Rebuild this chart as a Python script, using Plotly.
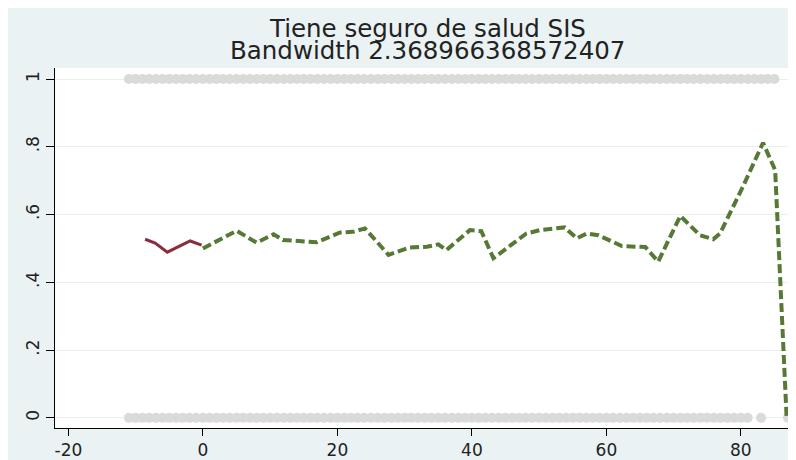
import plotly.graph_objects as go

# ---- data ----
title_line1 = "Tiene seguro de salud SIS"
title_line2 = "Bandwidth 2.368966368572407"

# observed outcome dots (y = 0 and y = 1)
zero_x = [-11, -10, -9, -8, -7, -6, -5, -4, -3, -2, -1, 0, 1, 2, 3, 4, 5, 6, 7, 8, 9, 10,
          11, 12, 13, 14, 15, 16, 17, 18, 19, 20, 21, 22, 23, 24, 25, 26, 27, 28, 29, 30,
          31, 32, 33, 34, 35, 36, 37, 38, 39, 40, 41, 42, 43, 44, 45, 46, 47, 48, 49, 50,
          51, 52, 53, 54, 55, 56, 57, 58, 59, 60, 61, 62, 63, 64, 65, 66, 67, 68, 69, 70,
          71, 72, 73, 74, 75, 76, 77, 78, 79, 80, 81, 83, 87]
zero_y = [0] * len(zero_x)
one_x = [-11, -10, -9, -8, -7, -6, -5, -4, -3, -2, -1, 0, 1, 2, 3, 4, 5, 6, 7, 8, 9, 10,
         11, 12, 13, 14, 15, 16, 17, 18, 19, 20, 21, 22, 23, 24, 25, 26, 27, 28, 29, 30,
         31, 32, 33, 34, 35, 36, 37, 38, 39, 40, 41, 42, 43, 44, 45, 46, 47, 48, 49, 50,
         51, 52, 53, 54, 55, 56, 57, 58, 59, 60, 61, 62, 63, 64, 65, 66, 67, 68, 69, 70,
         71, 72, 73, 74, 75, 76, 77, 78, 79, 80, 81, 82, 83, 84, 85]
one_y = [1] * len(one_x)

# local fit left of cutoff
left_x = [-8.6, -7.1, -5.3, -1.9, -0.2]
left_y = [0.527, 0.516, 0.489, 0.522, 0.510]

# local fit right of cutoff
right_x = [0.0, 5.0, 8.0, 10.5, 11.9, 16.9, 20.4, 22.3, 24.1, 27.6, 30.8, 33.3, 35.0,
           36.2, 39.7, 41.4, 43.2, 46.1, 48.1, 50.1, 53.1, 53.8, 55.6, 57.1, 58.8, 62.3,
           65.8, 67.7, 71.0, 73.9, 75.9, 76.9, 80.3, 83.3, 85.1, 86.8]
right_y = [0.500, 0.552, 0.517, 0.542, 0.525, 0.518, 0.547, 0.549, 0.559, 0.481, 0.503,
           0.505, 0.512, 0.495, 0.554, 0.551, 0.471, 0.515, 0.544, 0.554, 0.562, 0.562,
           0.530, 0.544, 0.539, 0.507, 0.504, 0.461, 0.596, 0.539, 0.527, 0.544, 0.682,
           0.812, 0.731, 0.003]

x_ticks = [-20, 0, 20, 40, 60, 80]
x_tick_labels = ["-20", "0", "20", "40", "60", "80"]
y_ticks = [0, 0.2, 0.4, 0.6, 0.8, 1]
y_tick_labels = ["0", ".2", ".4", ".6", ".8", "1"]

# ---- styles ----
BG = "#eaf2f3"
DOT = "#dadada"
RED = "#8b2d3d"
GREEN = "#567a36"
FONT = "DejaVu Sans, Liberation Sans, Arial, sans-serif"
TXT = "#222222"

fig = go.Figure()
fig.add_trace(go.Scatter(x=zero_x, y=zero_y, mode="markers",
                         marker=dict(color=DOT, size=10, line=dict(width=0)),
                         hoverinfo="skip", showlegend=False))
fig.add_trace(go.Scatter(x=one_x, y=one_y, mode="markers",
                         marker=dict(color=DOT, size=10, line=dict(width=0)),
                         hoverinfo="skip", showlegend=False))
fig.add_trace(go.Scatter(x=left_x, y=left_y, mode="lines",
                         line=dict(color=RED, width=3), showlegend=False))
fig.add_trace(go.Scatter(x=right_x, y=right_y, mode="lines",
                         line=dict(color=GREEN, width=4, dash="9px,4px"),
                         showlegend=False))

# the page body adds an 8px white border at the top-left
W, H = 788, 452
ml, mr, mt, mb = 47, 0, 60, 32
pw, ph = W - ml - mr, H - mt - mb


def px_x(p):
    return (p - ml) / pw


def px_y(p):
    return (H - mb - p) / ph


fig.update_layout(
    width=W, height=H,
    margin=dict(l=ml, r=mr, t=mt, b=mb, pad=0),
    paper_bgcolor=BG,
    plot_bgcolor="white",
    font=dict(family=FONT, color=TXT),
    showlegend=False,
    xaxis=dict(range=[-22, 88.2], tickvals=x_ticks, ticktext=x_tick_labels,
               ticks="outside", ticklen=7,
               tickcolor="black", tickwidth=1, showline=True, linecolor="black",
               linewidth=1, showgrid=False, zeroline=False,
               tickfont=dict(size=17, family=FONT, color=TXT)),
    yaxis=dict(range=[-0.03, 1.0325], tickvals=y_ticks, ticktext=y_tick_labels,
               ticks="outside", ticklen=8, tickcolor="black", tickwidth=1,
               showline=True, linecolor="black", linewidth=1,
               showgrid=True, gridcolor="#ececec", gridwidth=1, zeroline=False,
               tickangle=-90, tickfont=dict(size=17, family=FONT, color=TXT)),
    annotations=[
        dict(text=title_line1, xref="paper", yref="paper", x=px_x(419), y=px_y(21),
             xanchor="center", yanchor="middle", showarrow=False,
             font=dict(size=24.5, family=FONT, color=TXT)),
        dict(text=title_line2, xref="paper", yref="paper", x=px_x(419), y=px_y(43),
             xanchor="center", yanchor="middle", showarrow=False,
             font=dict(size=24.5, family=FONT, color=TXT)),
    ],
)

fig.write_html("out.html")
